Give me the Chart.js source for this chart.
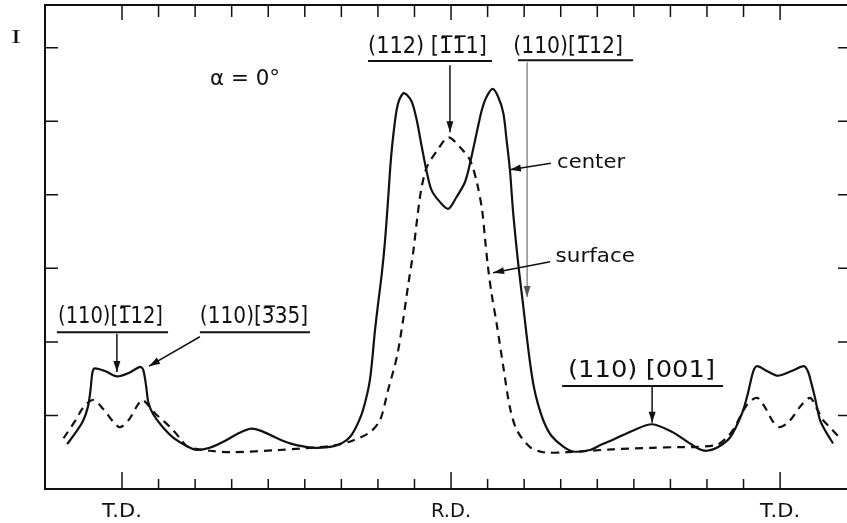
<!DOCTYPE html>
<html>
<head>
<meta charset="utf-8">
<script src="https://cdn.jsdelivr.net/npm/chart.js@4.4.0/dist/chart.umd.min.js"></script>
<style>
  html, body { margin: 0; padding: 0; background: #fff; overflow: hidden; }
</style>
</head>
<body>
<canvas id="c" width="847" height="523"></canvas>
<script>
// angle measured from T.D. (degrees) and relative intensity (tick units)
const centerDeg = [-15, -12.5, -10.7, -9.3, -8.6, -8.1, -7.5, -4.5, -1.4, 2, 4.9, 5.8, 6.6, 7.2, 8.5, 11, 14, 18.6, 20.5,
  24, 28, 32, 35.3, 38, 42, 46, 50.6, 53.3, 57.7, 60.4, 62.4, 64.2, 65.9, 67.8, 69.2, 70.0, 71.0, 71.9, 72.8, 73.5,
  74.3, 75.4, 76.9, 77.9, 79.3, 80.6, 82.0, 83.4, 84.7, 87.0, 89.3, 91.5, 93.8, 95.2, 97.0, 98.4, 99.7, 101.4,
  102.9, 104.3, 105.2, 106.1, 107.0, 108.4, 109.6, 110.6, 111.6, 112.6, 113.8, 115.5, 117.5, 120.6, 123.4, 128, 131,
  134.3, 140, 145, 150.7, 155, 158, 160, 162.7, 166.3, 169.6, 171.2, 172.6, 173.7, 176.5, 179.4, 183, 186.5, 187.6,
  188.5, 189.5, 190.9, 192.5, 194.5];
const centerI = [0.61, 0.78, 0.92, 1.12, 1.35, 1.58, 1.64, 1.6, 1.53, 1.58, 1.66, 1.62, 1.4, 1.18, 1.02, 0.85, 0.7, 0.56, 0.53,
  0.56, 0.65, 0.76, 0.82, 0.79, 0.7, 0.62, 0.57, 0.56, 0.58, 0.63, 0.71, 0.86, 1.07, 1.48, 2.16, 2.5, 2.9, 3.35, 3.95, 4.45,
  4.85, 5.22, 5.38, 5.36, 5.26, 5.02, 4.65, 4.30, 4.06, 3.9, 3.81, 3.97, 4.17, 4.43, 4.84, 5.15, 5.33, 5.44,
  5.33, 5.11, 4.74, 4.34, 3.75, 3.05, 2.55, 2.12, 1.72, 1.4, 1.15, 0.9, 0.72, 0.58, 0.51, 0.53, 0.6,
  0.67, 0.8, 0.88, 0.77, 0.63, 0.54, 0.52, 0.56, 0.7, 1.03, 1.3, 1.59, 1.67, 1.6, 1.54, 1.6, 1.67, 1.6,
  1.45, 1.25, 0.94, 0.78, 0.62];

const surfaceDeg = [-16, -12.5, -10.7, -7.9, -5, -2.5, -0.5, 2, 4, 5.5, 7, 9, 11.5, 14, 16, 17.8, 21, 24, 30, 43, 48.7,
  57.7, 63.2, 67.8, 70.6, 72.8, 75.2, 76.9, 78.2, 79.6, 80.7, 81.8, 83.4, 86.2, 89.2, 92.4, 95.2, 97.1, 98.5, 99.3,
  100.1, 101.1, 102.5, 104.3, 106.1, 108, 111.6, 115.2, 121.7, 134.3, 145, 152.6, 156, 162.7, 165, 167.1, 170.9,
  173.7, 176, 178, 180, 182.5, 185.5, 188.2, 190, 191.7, 194, 196.4];
const surfaceI = [0.69, 0.95, 1.1, 1.21, 1.08, 0.92, 0.84, 0.95, 1.12, 1.21, 1.15, 1.03, 0.92, 0.8, 0.68, 0.58, 0.54, 0.52, 0.5, 0.53, 0.55,
  0.59, 0.66, 0.77, 0.94, 1.35, 1.8, 2.3, 2.75, 3.2, 3.66, 4.06, 4.38, 4.6, 4.78, 4.65, 4.47, 4.16, 3.79, 3.4,
  3.02, 2.65, 2.24, 1.66, 1.11, 0.8, 0.57, 0.5, 0.5, 0.54, 0.56, 0.57, 0.57, 0.6, 0.68, 0.8, 1.14,
  1.24, 1.1, 0.92, 0.84, 0.92, 1.12, 1.24, 1.1, 0.94, 0.82, 0.69];

const xTicks = [0, 10, 20, 30, 40, 50, 60, 70, 80, 90, 100, 110, 120, 130, 140, 150, 160, 170, 180];
const xMajor = [0, 90, 180];
const xTickLabels = ['T.D.', 'R.D.', 'T.D.'];
const yTicks = [1, 2, 3, 4, 5, 6];

const pts = (xs, ys) => xs.map((x, i) => ({ x: x, y: ys[i] }));

function stretchText(ctx, text, x, y, w, size, family, align) {
  ctx.save();
  ctx.font = size + 'px ' + family;
  ctx.textBaseline = 'alphabetic';
  ctx.textAlign = 'left';
  const m = ctx.measureText(text).width;
  const s = w ? w / m : 1;
  const left = align === 'center' ? x - m * s / 2 : x;
  ctx.translate(left, y);
  ctx.scale(s, 1);
  ctx.fillText(text, 0, 0);
  ctx.restore();
}

function arrow(ctx, x0, y0, x1, y1, lw, color) {
  ctx.save();
  ctx.strokeStyle = color;
  ctx.fillStyle = color;
  ctx.lineWidth = lw;
  ctx.beginPath();
  ctx.moveTo(x0, y0);
  ctx.lineTo(x1, y1);
  ctx.stroke();
  const a = Math.atan2(y1 - y0, x1 - x0);
  const len = 11, hw = 3.5;
  ctx.beginPath();
  ctx.moveTo(x1, y1);
  ctx.lineTo(x1 - len * Math.cos(a) + hw * Math.sin(a), y1 - len * Math.sin(a) - hw * Math.cos(a));
  ctx.lineTo(x1 - len * Math.cos(a) - hw * Math.sin(a), y1 - len * Math.sin(a) + hw * Math.cos(a));
  ctx.closePath();
  ctx.fill();
  ctx.restore();
}

const frame = {
  id: 'frame',
  afterDraw(chart) {
    const ctx = chart.ctx;
    const a = chart.chartArea;
    const sx = chart.scales.x, sy = chart.scales.y;
    const X = v => sx.getPixelForValue(v);
    const Y = v => sy.getPixelForValue(v);
    ctx.save();
    ctx.strokeStyle = '#111';
    ctx.lineWidth = 2;
    ctx.beginPath();
    ctx.moveTo(chart.width, a.top); ctx.lineTo(a.left, a.top); ctx.lineTo(a.left, a.bottom); ctx.lineTo(chart.width, a.bottom);
    ctx.stroke();

    ctx.lineWidth = 1.5;
    xTicks.forEach(t => {
      const major = xMajor.includes(t);
      const x = X(t);
      ctx.beginPath();
      ctx.moveTo(x, a.bottom); ctx.lineTo(x, a.bottom - (major ? 17 : 10));
      ctx.moveTo(x, a.top); ctx.lineTo(x, a.top + (major ? 15 : 12));
      ctx.stroke();
    });
    yTicks.forEach(t => {
      const y = Y(t);
      ctx.beginPath();
      ctx.moveTo(a.left, y); ctx.lineTo(a.left + 13, y);
      ctx.moveTo(chart.width, y); ctx.lineTo(chart.width - 9, y);
      ctx.stroke();
    });

    ctx.fillStyle = '#111';
    const sans = '"DejaVu Sans"';
    xMajor.forEach((t, i) => stretchText(ctx, xTickLabels[i], X(t), a.bottom + 28, 40, 19, sans, 'center'));
    stretchText(ctx, 'I', 11, 43, 10, 19, '"Liberation Serif"');

    stretchText(ctx, 'α = 0°', X(24.1), Y(5.49), X(43.2) - X(24.1), 21, sans);

    const labels = [
      ['(112) [1\u03051\u03051]', 67.3, 99.8, 5.93, 67.3, 101.2, 5.82],
      ['(110)[1\u030512]', 107.0, 137.0, 5.93, 108.3, 139.8, 5.83],
      ['(110)[1\u030512]', -17.5, 11.2, 2.26, -17.8, 12.6, 2.13],
      ['(110)[3\u030535]', 21.3, 50.9, 2.26, 21.3, 51.4, 2.13],
      ['(110) [001]', 122.0, 162.2, 1.52, 120.4, 164.4, 1.40]
    ];
    labels.forEach(l => {
      stretchText(ctx, l[0], X(l[1]), Y(l[3]), X(l[2]) - X(l[1]), 23, sans);
      ctx.lineWidth = 2;
      ctx.beginPath();
      ctx.moveTo(X(l[4]), Y(l[6])); ctx.lineTo(X(l[5]), Y(l[6]));
      ctx.stroke();
    });

    stretchText(ctx, 'center', X(119), Y(4.36), X(137.6) - X(119), 19, sans);
    stretchText(ctx, 'surface', X(118.6), Y(3.09), X(140.3) - X(118.6), 19, sans);

    arrow(ctx, X(89.7), Y(5.76), X(89.7), Y(4.85), 1.5, '#111');
    arrow(ctx, X(110.8), Y(5.80), X(110.8), Y(2.61), 1, '#555');
    arrow(ctx, X(117.3), Y(4.43), X(106.1), Y(4.34), 1.5, '#111');
    arrow(ctx, X(117.1), Y(3.09), X(101.5), Y(2.94), 1.5, '#111');
    arrow(ctx, X(-1.4), Y(2.11), X(-1.4), Y(1.59), 1.5, '#111');
    arrow(ctx, X(21.3), Y(2.07), X(7.4), Y(1.67), 1.5, '#111');
    arrow(ctx, X(145.0), Y(1.40), X(145.0), Y(0.90), 1.5, '#111');
    ctx.restore();
  }
};

new Chart(document.getElementById('c'), {
  type: 'line',
  data: {
    datasets: [
      { label: 'center', data: pts(centerDeg, centerI), borderColor: '#111', borderWidth: 2.2,
        pointRadius: 0, fill: false, tension: 0.3 },
      { label: 'surface', data: pts(surfaceDeg, surfaceI), borderColor: '#111', borderWidth: 2.2,
        borderDash: [8, 6], pointRadius: 0, fill: false, tension: 0.3 }
    ]
  },
  options: {
    responsive: false,
    animation: false,
    devicePixelRatio: 1,
    layout: { padding: { left: 45, top: 5, right: 0, bottom: 34 } },
    plugins: { legend: { display: false }, tooltip: { enabled: false } },
    scales: {
      x: { type: 'linear', min: -21.06, max: 198.3, display: false },
      y: { min: 0, max: 6.58, display: false }
    }
  },
  plugins: [frame]
});
</script>
</body>
</html>
